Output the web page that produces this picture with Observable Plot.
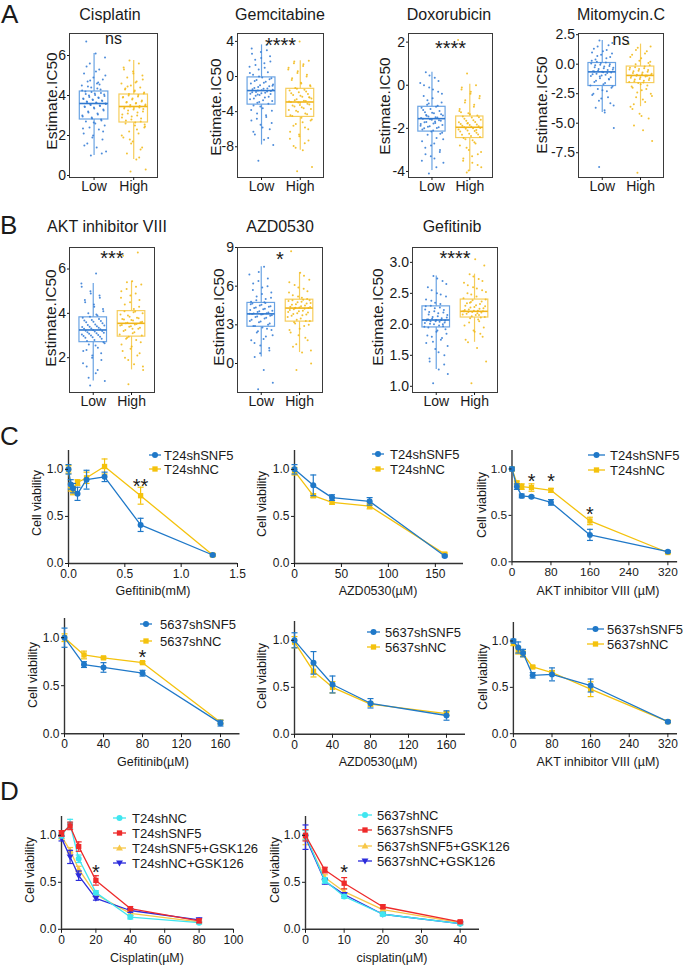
<!DOCTYPE html>
<html><head><meta charset="utf-8">
<script src="https://cdn.jsdelivr.net/npm/d3@7"></script>
<script src="https://cdn.jsdelivr.net/npm/@observablehq/plot@0.6"></script>
<style>
html,body{margin:0;padding:0;background:#fff;}
#page{position:relative;width:685px;height:965px;overflow:hidden;font-family:"Liberation Sans",Arial,Helvetica,sans-serif;}
#page > .panel{position:absolute;}
#overlay{position:absolute;left:0;top:0;pointer-events:none;overflow:visible;}
</style></head><body><div id="page"></div>
<script>
// ---------------- DATA: panel A / B (IC50 estimates, Low vs High) ----------------
// box stats: [lower whisker, Q1, median, Q3, upper whisker]
const cisplatinLowBox  = [1.0, 2.8, 3.6, 4.2, 6.1];
const cisplatinHighBox = [0.8, 2.65, 3.45, 4.05, 5.75];
const cisplatinLow  = [1.0,1.2,1.4,1.6,1.8,2.0,2.1,2.3,2.4,2.5,2.6,2.7,2.8,2.9,3.0,3.1,3.2,3.3,3.4,3.45,3.5,3.55,3.6,3.65,3.7,3.75,3.8,3.85,3.9,4.0,4.05,4.1,4.2,4.3,4.4,4.5,4.6,4.7,4.8,4.9,5.1,5.3,5.6,5.9,6.1,6.7,
  2.75,2.85,2.95,3.05,3.15,3.25,3.35,3.42,3.48,3.52,3.58,3.62,3.68,3.72,3.78,3.82,3.88,3.92,3.98,4.02,4.08,4.12,4.18,4.25,4.35,4.45,2.2,2.65,1.5,4.55,4.75,5.0,5.2,5.45,1.1,1.9,2.35,4.65];
const cisplatinHigh = [0.2,0.3,0.8,1.1,1.4,1.7,1.9,2.1,2.2,2.4,2.5,2.6,2.7,2.8,2.9,3.0,3.1,3.2,3.3,3.35,3.4,3.45,3.5,3.6,3.65,3.7,3.8,3.9,3.95,4.0,4.1,4.2,4.3,4.4,4.5,4.6,4.7,4.9,5.0,5.2,5.4,5.6,5.75,
  2.55,2.65,2.75,2.85,2.95,3.05,3.15,3.25,3.32,3.38,3.42,3.48,3.52,3.55,3.62,3.68,3.75,3.85,3.92,4.02,4.08,4.15,4.25,4.35,1.3,1.6,2.0,2.3,4.45,4.8,5.1,5.3,0.9,1.8,2.45,4.65];

const gemcitabineLowBox  = [-7.8, -3.2, -1.6, -0.1, 3.6];
const gemcitabineHighBox = [-8.4, -4.6, -2.9, -1.4, 1.8];
const gemcitabineLow  = [-9.6,-7.8,-7.2,-6.6,-6.0,-5.5,-5.0,-4.6,-4.2,-3.9,-3.6,-3.3,-3.1,-2.9,-2.6,-2.4,-2.2,-2.0,-1.9,-1.8,-1.7,-1.6,-1.5,-1.4,-1.3,-1.1,-1.0,-0.8,-0.6,-0.4,-0.2,-0.1,0.2,0.5,0.8,1.1,1.5,1.9,2.3,2.8,3.2,3.6,
  -3.0,-2.8,-2.7,-2.5,-2.3,-2.1,-1.95,-1.85,-1.75,-1.65,-1.55,-1.45,-1.35,-1.2,-0.9,-0.7,-0.5,-0.3,-3.4,-3.8,-4.4,-4.8,-5.3,-5.8,-6.3,-7.0,0.0,0.4,1.0,1.3,1.7,2.1,2.6,3.0,-2.05,-1.05];
const gemcitabineHigh = [-10.8,-10.3,-8.4,-7.9,-7.3,-6.8,-6.3,-5.8,-5.4,-5.0,-4.7,-4.5,-4.3,-4.0,-3.8,-3.6,-3.4,-3.2,-3.0,-2.9,-2.8,-2.6,-2.5,-2.3,-2.1,-2.0,-1.8,-1.6,-1.5,-1.3,-1.0,-0.7,-0.4,0.0,0.4,0.8,1.2,1.5,1.8,4.0,
  -4.4,-4.2,-3.9,-3.7,-3.5,-3.3,-3.1,-2.95,-2.85,-2.75,-2.7,-2.4,-2.2,-1.9,-1.7,-1.4,-4.9,-5.2,-5.6,-6.0,-6.6,-7.1,-7.6,-8.1,-1.1,-0.8,-0.2,0.2,0.6,1.0,1.4,1.7,-2.35,-3.25];

const doxorubicinLowBox  = [-3.95, -2.15, -1.55, -1.0, 0.6];
const doxorubicinHighBox = [-4.0, -2.45, -1.95, -1.45, 0.05];
const doxorubicinLow  = [-4.1,-3.6,-3.4,-3.2,-3.0,-2.8,-2.6,-2.45,-2.3,-2.2,-2.1,-2.0,-1.95,-1.9,-1.8,-1.75,-1.7,-1.65,-1.6,-1.55,-1.5,-1.45,-1.4,-1.3,-1.25,-1.2,-1.1,-1.05,-1.0,-0.9,-0.8,-0.6,-0.5,-0.3,-0.1,0.1,0.35,0.6,
  -2.25,-2.15,-2.05,-1.98,-1.92,-1.85,-1.78,-1.72,-1.62,-1.58,-1.52,-1.48,-1.42,-1.35,-1.28,-1.15,-0.95,-0.85,-2.5,-2.7,-2.9,-3.1,-3.3,-3.5,-3.8,-0.7,-0.4,-0.2,0.0,0.2,0.45,-1.88,-1.68,-1.38];
const doxorubicinHigh = [-4.05,-3.8,-3.6,-3.4,-3.2,-3.0,-2.8,-2.65,-2.5,-2.4,-2.35,-2.3,-2.2,-2.1,-2.05,-2.0,-1.95,-1.9,-1.85,-1.8,-1.7,-1.65,-1.6,-1.5,-1.45,-1.4,-1.3,-1.2,-1.0,-0.8,-0.6,-0.4,-0.2,0.0,0.55,2.1,
  -2.55,-2.45,-2.28,-2.25,-2.15,-2.12,-2.02,-1.98,-1.92,-1.88,-1.82,-1.75,-1.72,-1.62,-1.55,-1.48,-1.35,-1.25,-2.7,-2.9,-3.1,-3.3,-3.5,-3.7,-3.95,-1.1,-0.9,-0.7,-0.5,-0.3,-0.1,-2.08,-1.78];

const mitomycinLowBox  = [-4.1, -1.85, -0.65, 0.1, 2.0];
const mitomycinHighBox = [-3.6, -1.6, -0.95, -0.2, 1.7];
const mitomycinLow  = [-8.7,-5.4,-4.1,-3.7,-3.3,-2.9,-2.6,-2.3,-2.1,-1.9,-1.7,-1.5,-1.3,-1.2,-1.0,-0.9,-0.8,-0.7,-0.65,-0.6,-0.5,-0.4,-0.3,-0.2,-0.1,0.0,0.1,0.3,0.5,0.7,0.9,1.1,1.3,1.6,2.0,
  -1.8,-1.6,-1.4,-1.1,-0.95,-0.85,-0.75,-0.55,-0.45,-0.35,-0.25,-0.15,-0.05,0.05,0.15,0.2,-2.0,-2.2,-2.5,-2.8,-3.1,-3.5,-3.9,0.4,0.6,0.8,1.0,1.2,1.5,1.8,-0.68,-0.62,-1.25,-1.05];
const mitomycinHigh = [-9.2,-6.5,-5.6,-5.2,-4.6,-4.2,-3.6,-3.2,-2.8,-2.5,-2.2,-2.0,-1.8,-1.6,-1.5,-1.4,-1.3,-1.2,-1.1,-1.0,-0.95,-0.9,-0.8,-0.7,-0.6,-0.5,-0.4,-0.3,-0.2,0.0,0.2,0.5,0.8,1.1,1.4,1.7,
  -1.55,-1.45,-1.35,-1.25,-1.15,-1.05,-0.98,-0.92,-0.85,-0.75,-0.65,-0.55,-0.45,-0.35,-0.25,-0.1,-1.7,-1.9,-2.1,-2.4,-2.7,-3.0,-3.4,0.1,0.3,0.6,0.9,1.2,1.5,-4.4,-3.8,-0.97];

const aktLowBox  = [0.95, 2.7, 3.25, 3.82, 5.35];
const aktHighBox = [1.45, 2.95, 3.55, 4.1, 5.45];
const aktLow  = [0.75,0.95,1.3,1.6,1.9,2.1,2.3,2.45,2.6,2.7,2.8,2.9,2.95,3.0,3.05,3.1,3.15,3.2,3.25,3.3,3.35,3.4,3.45,3.5,3.6,3.65,3.7,3.8,3.9,4.0,4.2,4.4,4.6,4.8,5.0,5.35,5.8,
  2.75,2.85,2.92,2.98,3.02,3.08,3.12,3.18,3.22,3.28,3.32,3.38,3.42,3.48,3.55,3.62,3.68,3.75,3.85,2.65,2.55,2.35,2.2,2.0,1.75,1.45,1.1,4.1,4.3,4.5,4.7,4.9,5.2,3.95];
const aktHigh = [0.8,1.45,1.7,2.0,2.2,2.4,2.6,2.8,2.9,3.0,3.1,3.2,3.3,3.4,3.45,3.5,3.55,3.6,3.7,3.75,3.8,3.9,4.0,4.05,4.1,4.3,4.5,4.7,4.9,5.1,5.3,5.45,6.6,6.75,
  2.95,3.05,3.15,3.25,3.35,3.42,3.48,3.52,3.58,3.62,3.68,3.72,3.78,3.85,3.95,4.08,2.85,2.7,2.5,2.3,2.1,1.9,1.6,4.2,4.4,4.6,4.8,5.0,5.2,5.4,3.56,3.3];

const azdLowBox  = [0.5, 2.85, 3.85, 4.7, 7.5];
const azdHighBox = [0.85, 3.25, 4.3, 4.95, 7.05];
const azdLow  = [-2.0,-1.5,-0.5,0.5,1.0,1.4,1.8,2.1,2.4,2.6,2.8,2.9,3.0,3.2,3.3,3.5,3.6,3.7,3.8,3.85,3.9,4.0,4.1,4.2,4.3,4.4,4.5,4.6,4.7,4.9,5.1,5.4,5.7,6.0,6.4,6.9,7.5,
  2.9,3.1,3.25,3.4,3.55,3.65,3.75,3.82,3.88,3.95,4.05,4.15,4.25,4.35,4.45,4.55,4.65,2.7,2.5,2.2,1.9,1.6,1.2,0.8,4.8,5.0,5.2,5.5,5.9,6.2,6.6,7.1,3.86,4.75];
const azdHigh = [-0.5,0.0,0.85,1.3,1.8,2.2,2.6,2.9,3.1,3.3,3.5,3.7,3.8,3.9,4.0,4.1,4.2,4.3,4.35,4.4,4.5,4.6,4.7,4.8,4.9,5.0,5.2,5.5,5.8,6.1,6.5,7.05,8.7,
  3.3,3.4,3.6,3.75,3.85,3.95,4.05,4.15,4.25,4.32,4.38,4.45,4.55,4.65,4.75,4.85,4.95,3.2,3.0,2.7,2.4,2.0,1.5,1.0,5.1,5.3,5.6,5.9,6.3,6.8,4.28,4.9];

const gefitinibLowBox  = [1.27, 1.95, 2.07, 2.29, 2.78];
const gefitinibHighBox = [1.71, 2.11, 2.21, 2.4, 2.81];
const gefitinibLow  = [1.05,1.2,1.27,1.4,1.5,1.6,1.7,1.75,1.8,1.85,1.9,1.95,1.97,2.0,2.02,2.04,2.05,2.06,2.07,2.08,2.1,2.12,2.15,2.18,2.2,2.23,2.26,2.29,2.33,2.38,2.45,2.5,2.6,2.7,2.78,
  1.96,1.98,2.01,2.03,2.05,2.06,2.07,2.09,2.11,2.13,2.16,2.19,2.21,2.24,2.27,2.3,1.92,1.88,1.82,1.78,1.72,1.65,1.55,1.45,1.35,2.35,2.4,2.48,2.55,2.65,2.74,2.08,2.0];
const gefitinibHigh = [1.05,1.4,1.62,1.71,1.8,1.9,1.98,2.05,2.1,2.12,2.15,2.17,2.19,2.2,2.21,2.22,2.24,2.26,2.28,2.3,2.33,2.36,2.4,2.45,2.5,2.55,2.6,2.67,2.73,2.81,2.95,3.05,3.1,
  2.11,2.13,2.16,2.18,2.2,2.21,2.22,2.23,2.25,2.27,2.29,2.31,2.34,2.37,2.39,2.42,2.08,2.03,1.95,1.88,1.75,1.85,2.48,2.52,2.58,2.63,2.7,2.77,2.21,2.15,2.35];

const groupLabels = ["Low", "High"];

// ---------------- DATA: panel C (cell viability) ----------------
const gefMMDose = [0, 0.02, 0.04, 0.08, 0.16, 0.32, 0.64, 1.28];
const t24GefSNF5 = [1.00, 0.84, 0.80, 0.74, 0.89, 0.92, 0.41, 0.09];
const t24GefSNF5Err = [0.05, 0.05, 0.05, 0.07, 0.10, 0.05, 0.07, 0.01];
const t24GefNC = [1.00, 0.81, 0.77, 0.86, 0.91, 1.03, 0.72, 0.09];
const t24GefNCErr = [0.04, 0.04, 0.04, 0.03, 0.06, 0.08, 0.09, 0.01];

const azdDose = [0, 20, 40, 80, 160];
const t24AzdSNF5 = [1.00, 0.83, 0.70, 0.66, 0.08];
const t24AzdSNF5Err = [0.05, 0.11, 0.03, 0.04, 0.01];
const t24AzdNC = [0.98, 0.72, 0.65, 0.61, 0.10];
const t24AzdNCErr = [0.04, 0.02, 0.02, 0.03, 0.01];

const aktDose = [0, 10, 20, 40, 80, 160, 320];
const t24AktSNF5 = [1.00, 0.81, 0.71, 0.70, 0.64, 0.29, 0.11];
const t24AktSNF5Err = [0.02, 0.03, 0.02, 0.01, 0.03, 0.06, 0.01];
const t24AktNC = [1.00, 0.85, 0.81, 0.80, 0.77, 0.44, 0.10];
const t24AktNCErr = [0.02, 0.02, 0.03, 0.04, 0.02, 0.04, 0.01];

const gefUMDose = [0, 20, 40, 80, 160];
const c5637GefSNF5 = [1.00, 0.72, 0.69, 0.63, 0.11];
const c5637GefSNF5Err = [0.10, 0.03, 0.05, 0.03, 0.03];
const c5637GefNC = [1.00, 0.82, 0.79, 0.74, 0.12];
const c5637GefNCErr = [0.04, 0.04, 0.01, 0.01, 0.02];

const c5637AzdSNF5 = [1.00, 0.76, 0.53, 0.33, 0.20];
const c5637AzdSNF5Err = [0.08, 0.12, 0.09, 0.05, 0.05];
const c5637AzdNC = [0.98, 0.67, 0.50, 0.32, 0.22];
const c5637AzdNCErr = [0.06, 0.06, 0.06, 0.02, 0.02];

const c5637AktSNF5 = [1.00, 0.93, 0.87, 0.63, 0.64, 0.52, 0.13];
const c5637AktSNF5Err = [0.02, 0.06, 0.04, 0.03, 0.07, 0.07, 0.01];
const c5637AktNC = [0.98, 0.90, 0.86, 0.72, 0.66, 0.48, 0.13];
const c5637AktNCErr = [0.03, 0.04, 0.03, 0.01, 0.02, 0.08, 0.01];

// ---------------- DATA: panel D (cisplatin + GSK126) ----------------
const t24CisDose = [0, 5, 10, 20, 40, 80];
const t24CisNC = [1.00, 1.12, 0.75, 0.39, 0.13, 0.07];
const t24CisNCErr = [0.03, 0.05, 0.04, 0.02, 0.02, 0.01];
const t24CisSNF5 = [1.02, 1.10, 0.88, 0.52, 0.22, 0.09];
const t24CisSNF5Err = [0.03, 0.04, 0.05, 0.05, 0.02, 0.02];
const t24CisSNF5GSK = [0.99, 0.84, 0.64, 0.37, 0.17, 0.08];
const t24CisSNF5GSKErr = [0.03, 0.03, 0.03, 0.02, 0.02, 0.01];
const t24CisNCGSK = [0.97, 0.77, 0.57, 0.33, 0.20, 0.10];
const t24CisNCGSKErr = [0.03, 0.07, 0.05, 0.02, 0.02, 0.02];

const c5637CisDose = [0, 5, 10, 20, 40];
const c5637CisNC = [1.00, 0.52, 0.35, 0.16, 0.06];
const c5637CisNCErr = [0.05, 0.03, 0.02, 0.02, 0.01];
const c5637CisSNF5 = [1.00, 0.63, 0.49, 0.24, 0.08];
const c5637CisSNF5Err = [0.06, 0.03, 0.06, 0.02, 0.01];
const c5637CisSNF5GSK = [0.98, 0.55, 0.40, 0.21, 0.07];
const c5637CisSNF5GSKErr = [0.08, 0.03, 0.03, 0.02, 0.01];
const c5637CisNCGSK = [0.98, 0.51, 0.37, 0.16, 0.06];
const c5637CisNCGSKErr = [0.13, 0.03, 0.02, 0.01, 0.01];

// ---------------- STYLE ----------------
const FONT = '"Liberation Sans", Arial, Helvetica, sans-serif';
const INK = "#1a1a1a";
const LOW_DOT = "#3a80d6", LOW_BOX = "#6aa3e3", LOW_MED = "#2f78cf";
const HIGH_DOT = "#f2bb1e", HIGH_BOX = "#f6cd5c", HIGH_MED = "#f0b51a";
const C_BLUE = "#1f78c8", C_YEL = "#f4c20d";
const D_CYAN = "#3fe6f0", D_RED = "#ee2a2a", D_YEL = "#f7c748", D_BLUE = "#2b2bdb";

const CAP = {draw(ctx, size) { const w = Math.sqrt(size / Math.PI); ctx.moveTo(-w, 0); ctx.lineTo(w, 0); }};
const TRI_UP = {draw(ctx, size) { const r = Math.sqrt(size / Math.PI) * 1.15; ctx.moveTo(0, -r); ctx.lineTo(r, r * 0.7); ctx.lineTo(-r, r * 0.7); ctx.closePath(); }};
const TRI_DOWN = {draw(ctx, size) { const r = Math.sqrt(size / Math.PI) * 1.15; ctx.moveTo(0, r); ctx.lineTo(r, -r * 0.7); ctx.lineTo(-r, -r * 0.7); ctx.closePath(); }};

const page = document.getElementById("page");
function mount(svg, x0, y0, m) {
  const div = document.createElement("div");
  div.className = "panel";
  div.style.left = (x0 - m.left) + "px";
  div.style.top = (y0 - m.top) + "px";
  div.appendChild(svg);
  page.appendChild(div);
}
const baseStyle = {fontFamily: FONT, background: "transparent", overflow: "visible", color: INK};

// ---------------- BOX PANELS ----------------
const BOX_M = {left: 40, right: 4, top: 4, bottom: 24};
const BW = 0.36;
function jitter(i) { return (((i * 0.6180339887) + 0.37) % 1 - 0.5) * 0.62; }
function boxPanel(p) {
  const [x0, x1, y0, y1] = p.frame;
  const groups = [
    {pos: 1, vals: p.low, s: p.lowBox, dot: LOW_DOT, line: LOW_BOX, med: LOW_MED},
    {pos: 2, vals: p.high, s: p.highBox, dot: HIGH_DOT, line: HIGH_BOX, med: HIGH_MED}
  ];
  const marks = [];
  for (const g of groups) {
    const st = [{pos: g.pos, lo: g.s[0], q1: g.s[1], med: g.s[2], q3: g.s[3], hi: g.s[4]}];
    marks.push(Plot.ruleX(st, {x: "pos", y1: "q3", y2: "hi", stroke: g.line, strokeWidth: 1.2}));
    marks.push(Plot.ruleX(st, {x: "pos", y1: "lo", y2: "q1", stroke: g.line, strokeWidth: 1.2}));
    marks.push(Plot.rect(st, {x1: d => d.pos - BW, x2: d => d.pos + BW, y1: "q1", y2: "q3", fill: "white", fillOpacity: 0.35, stroke: g.line, strokeWidth: 1.2}));
    marks.push(Plot.dot(g.vals.map((v, i) => ({x: g.pos + jitter(i), y: v})), {x: "x", y: "y", r: 1.0, fill: g.dot, fillOpacity: 0.9}));
    marks.push(Plot.ruleY(st, {y: "med", x1: d => d.pos - BW, x2: d => d.pos + BW, stroke: g.med, strokeWidth: 1.6}));
  }
  marks.push(Plot.frame({stroke: "#3a3a3a", strokeWidth: 1}));
  marks.push(Plot.axisY({ticks: p.ticks, tickFormat: p.fmt, tickSize: 2, tickPadding: 1.5, fontSize: 14, label: null}));
  marks.push(Plot.axisX({ticks: [1, 2], tickFormat: d => groupLabels[d - 1], tickSize: 3, tickPadding: 1, fontSize: 14, label: null}));
  marks.push(Plot.text([p.sig], {text: d => d, frameAnchor: "top", lineAnchor: "top", dy: p.sigDy, fontSize: p.sig === "ns" ? 16 : 20, fill: INK}));
  const svg = Plot.plot({
    width: x1 - x0 + BOX_M.left + BOX_M.right, height: y1 - y0 + BOX_M.top + BOX_M.bottom,
    marginLeft: BOX_M.left, marginRight: BOX_M.right, marginTop: BOX_M.top, marginBottom: BOX_M.bottom,
    x: {domain: [0.38, 2.6]}, y: {domain: p.domain}, style: baseStyle, marks
  });
  mount(svg, x0, y0, BOX_M);
}
const intFmt = d => String(d);
const oneFmt = d => d.toFixed(1);
[
  {frame: [69, 157, 33, 177], domain: [-0.1, 7.1], ticks: [0, 2, 4, 6], fmt: intFmt, low: cisplatinLow, high: cisplatinHigh, lowBox: cisplatinLowBox, highBox: cisplatinHighBox, sig: "ns", sigDy: -0.5},
  {frame: [237, 323, 33, 177], domain: [-11.5, 4.9], ticks: [-8, -4, 0, 4], fmt: intFmt, low: gemcitabineLow, high: gemcitabineHigh, lowBox: gemcitabineLowBox, highBox: gemcitabineHighBox, sig: "****", sigDy: 4.5},
  {frame: [408, 492, 33, 177], domain: [-4.28, 2.4], ticks: [-4, -2, 0, 2], fmt: intFmt, low: doxorubicinLow, high: doxorubicinHigh, lowBox: doxorubicinLowBox, highBox: doxorubicinHighBox, sig: "****", sigDy: 7.5},
  {frame: [578, 663, 33, 177], domain: [-9.6, 2.6], ticks: [-7.5, -5, -2.5, 0, 2.5], fmt: oneFmt, low: mitomycinLow, high: mitomycinHigh, lowBox: mitomycinLowBox, highBox: mitomycinHighBox, sig: "ns", sigDy: 0.5},
  {frame: [69, 154, 247, 392], domain: [0.43, 6.97], ticks: [2, 4, 6], fmt: intFmt, low: aktLow, high: aktHigh, lowBox: aktLowBox, highBox: aktHighBox, sig: "***", sigDy: 3},
  {frame: [237, 322, 247, 392], domain: [-2.25, 9.0], ticks: [0, 3, 6, 9], fmt: intFmt, low: azdLow, high: azdHigh, lowBox: azdLowBox, highBox: azdHighBox, sig: "*", sigDy: 4},
  {frame: [412, 497, 247, 392], domain: [0.90, 3.24], ticks: [1, 1.5, 2, 2.5, 3], fmt: oneFmt, low: gefitinibLow, high: gefitinibHigh, lowBox: gefitinibLowBox, highBox: gefitinibHighBox, sig: "****", sigDy: 3}
].forEach(boxPanel);

// ---------------- LINE PANELS ----------------
const LC_M = {left: 36, right: 8, top: 6, bottom: 22};
function lineChart(p) {
  const [x0, x1, y0, y1] = p.frame;
  const marks = [
    Plot.ruleX([p.xDomain[0]], {stroke: "#333", strokeWidth: 1.4}),
    Plot.ruleY([0], {stroke: "#333", strokeWidth: 1.4})
  ];
  for (const s of p.series) {
    const data = s.y.map((v, i) => ({x: p.x[i], y: v, lo: v - s.e[i], hi: v + s.e[i]}));
    marks.push(Plot.line(data, {x: "x", y: "y", stroke: s.color, strokeWidth: 1.3}));
    marks.push(Plot.ruleX(data, {x: "x", y1: "lo", y2: "hi", stroke: s.color, strokeWidth: 1.2}));
    marks.push(Plot.dot(data, {x: "x", y: "lo", symbol: CAP, r: 3, stroke: s.color, fill: "none", strokeWidth: 1.2}));
    marks.push(Plot.dot(data, {x: "x", y: "hi", symbol: CAP, r: 3, stroke: s.color, fill: "none", strokeWidth: 1.2}));
    marks.push(Plot.dot(data, {x: "x", y: "y", symbol: s.symbol, r: s.r || 3, fill: s.color, stroke: "none"}));
  }
  marks.push(Plot.axisY({ticks: [0, 0.5, 1], tickFormat: oneFmt, tickSize: 3, tickPadding: 2, fontSize: 12, label: null}));
  marks.push(Plot.axisX({ticks: p.xTicks, tickFormat: p.xFmt, tickSize: 4, tickPadding: 2, fontSize: 12, label: null}));
  if (p.stars) marks.push(Plot.text(p.stars, {x: "x", y: "y", text: "label", lineAnchor: "top", dy: -2.6, fontSize: 20, fill: INK}));
  const svg = Plot.plot({
    width: x1 - x0 + LC_M.left + LC_M.right, height: y1 - y0 + LC_M.top + LC_M.bottom,
    marginLeft: LC_M.left, marginRight: LC_M.right, marginTop: LC_M.top, marginBottom: LC_M.bottom,
    x: {domain: p.xDomain}, y: {domain: [0, 1.2]}, style: baseStyle, marks
  });
  mount(svg, x0, y0, LC_M);
}
const snfC = (y, e) => ({y, e, color: C_BLUE, symbol: "circle", r: 3});
const ncC = (y, e) => ({y, e, color: C_YEL, symbol: "square", r: 3});
lineChart({frame: [68, 237, 450, 563], x: gefMMDose, xDomain: [0, 1.5], xTicks: [0, 0.5, 1, 1.5], xFmt: oneFmt,
  series: [ncC(t24GefNC, t24GefNCErr), snfC(t24GefSNF5, t24GefSNF5Err)], stars: [{x: 0.64, y: 0.87, label: "**"}]});
lineChart({frame: [294, 463, 450, 563], x: azdDose, xDomain: [0, 180], xTicks: [0, 50, 100, 150], xFmt: intFmt,
  series: [ncC(t24AzdNC, t24AzdNCErr), snfC(t24AzdSNF5, t24AzdSNF5Err)]});
lineChart({frame: [512, 680, 450, 563], x: aktDose, xDomain: [0, 340], xTicks: [0, 80, 160, 240, 320], xFmt: intFmt,
  series: [ncC(t24AktNC, t24AktNCErr), snfC(t24AktSNF5, t24AktSNF5Err)],
  stars: [{x: 40, y: 0.915, label: "*"}, {x: 80, y: 0.915, label: "*"}, {x: 160, y: 0.56, label: "*"}]});
lineChart({frame: [64, 239.5, 617.8, 733], x: gefUMDose, xDomain: [0, 180], xTicks: [0, 40, 80, 120, 160], xFmt: intFmt,
  series: [ncC(c5637GefNC, c5637GefNCErr), snfC(c5637GefSNF5, c5637GefSNF5Err)], stars: [{x: 80, y: 0.85, label: "*"}]});
lineChart({frame: [294, 465, 621.2, 734], x: azdDose, xDomain: [0, 180], xTicks: [0, 40, 80, 120, 160], xFmt: intFmt,
  series: [ncC(c5637AzdNC, c5637AzdNCErr), snfC(c5637AzdSNF5, c5637AzdSNF5Err)]});
lineChart({frame: [513, 677.7, 622.4, 734], x: aktDose, xDomain: [0, 340], xTicks: [0, 80, 160, 240, 320], xFmt: intFmt,
  series: [ncC(c5637AktNC, c5637AktNCErr), snfC(c5637AktSNF5, c5637AktSNF5Err)]});

lineChart({frame: [61, 233, 816.2, 929], x: t24CisDose, xDomain: [0, 100], xTicks: [0, 20, 40, 60, 80, 100], xFmt: intFmt,
  series: [
    {y: t24CisSNF5GSK, e: t24CisSNF5GSKErr, color: D_YEL, symbol: TRI_UP, r: 3},
    {y: t24CisNCGSK, e: t24CisNCGSKErr, color: D_BLUE, symbol: TRI_DOWN, r: 3},
    {y: t24CisNC, e: t24CisNCErr, color: D_CYAN, symbol: "circle", r: 3},
    {y: t24CisSNF5, e: t24CisSNF5Err, color: D_RED, symbol: "square", r: 3}
  ], stars: [{x: 20, y: 0.66, label: "*"}]});
lineChart({frame: [305, 479, 816.2, 929], x: c5637CisDose, xDomain: [0, 45], xTicks: [0, 10, 20, 30, 40], xFmt: intFmt,
  series: [
    {y: c5637CisSNF5GSK, e: c5637CisSNF5GSKErr, color: D_YEL, symbol: TRI_UP, r: 3},
    {y: c5637CisNCGSK, e: c5637CisNCGSKErr, color: D_BLUE, symbol: TRI_DOWN, r: 3},
    {y: c5637CisNC, e: c5637CisNCErr, color: D_CYAN, symbol: "circle", r: 3},
    {y: c5637CisSNF5, e: c5637CisSNF5Err, color: D_RED, symbol: "square", r: 3}
  ], stars: [{x: 10, y: 0.66, label: "*"}]});

// ---------------- TEXT OVERLAY (letters, titles, axis labels, legends) ----------------
const ov = d3.select(page).append("svg").attr("id", "overlay").attr("width", 685).attr("height", 965)
  .attr("font-family", FONT).attr("fill", INK);
function txt(x, y, s, size, anchor = "start", rot = false) {
  const t = ov.append("text").attr("x", x).attr("y", y).attr("font-size", size).attr("text-anchor", anchor).text(s);
  if (rot) t.attr("transform", `rotate(-90 ${x} ${y})`);
}
[["A", 1, 23], ["B", 0, 234], ["C", 0, 445], ["D", 0, 800]].forEach(([s, x, y]) => txt(x, y, s, 26));
[["Cisplatin", 110, 19.5], ["Gemcitabine", 280, 19.5], ["Doxorubicin", 449, 19.5], ["Mitomycin.C", 621, 19.5],
 ["AKT inhibitor VIII", 107, 232], ["AZD0530", 280, 232], ["Gefitinib", 452, 232]].forEach(([s, x, y]) => txt(x, y, s, 16, "middle"));
[[57, 101], [221, 107], [390, 106], [547, 105], [56, 318], [224, 317], [383, 317]].forEach(([x, y]) => txt(x, y, "Estimate.IC50", 15.5, "middle", true));
[[41, 503], [266, 504], [486, 505], [37, 675], [266, 676], [487, 677], [34, 870], [279, 870]].forEach(([x, y]) => txt(x, y, "Cell viability", 12.5, "middle", true));
[["Gefitinib(mM)", 153, 595], ["AZD0530(µM)", 378, 595], ["AKT inhibitor VIII (µM)", 598, 595],
 ["Gefitinib(µM)", 153, 766], ["AZD0530(µM)", 378, 766], ["AKT inhibitor VIII (µM)", 598, 766],
 ["Cisplatin(µM)", 147, 962], ["cisplatin(µM)", 392, 962]].forEach(([s, x, y]) => txt(x, y, s, 12.5, "middle"));

function legend(xa, xb, tx, ys, items) {
  items.forEach((it, i) => {
    const y = ys[i];
    ov.append("line").attr("x1", xa).attr("x2", xb).attr("y1", y).attr("y2", y).attr("stroke", it.color).attr("stroke-width", 1.3);
    ov.append("path").attr("d", d3.symbol(it.symbol, 9 * Math.PI)()).attr("transform", `translate(${(xa + xb) / 2},${y})`).attr("fill", it.color);
    txt(tx, y + 4.6, it.label, 13);
  });
}
const symMap = {circle: d3.symbolCircle, square: d3.symbolSquare};
const cT24 = [{label: "T24shSNF5", color: C_BLUE, symbol: symMap.circle}, {label: "T24shNC", color: C_YEL, symbol: symMap.square}];
const c5637 = [{label: "5637shSNF5", color: C_BLUE, symbol: symMap.circle}, {label: "5637shNC", color: C_YEL, symbol: symMap.square}];
legend(149, 161, 164, [455, 469], cT24);
legend(372, 384, 390, [454, 469], cT24);
legend(588, 605, 610, [455, 470], cT24);
legend(140, 152, 160, [624, 641], c5637);
legend(367, 380, 385, [632, 647], c5637);
legend(587, 604, 607, [629, 644], c5637);
legend(113, 126, 132, [818, 833, 848, 863], [
  {label: "T24shNC", color: D_CYAN, symbol: symMap.circle},
  {label: "T24shSNF5", color: D_RED, symbol: symMap.square},
  {label: "T24shSNF5+GSK126", color: D_YEL, symbol: TRI_UP},
  {label: "T24shNC+GSK126", color: D_BLUE, symbol: TRI_DOWN}]);
legend(358, 372, 377, [815, 830, 846, 861], [
  {label: "5637shNC", color: D_CYAN, symbol: symMap.circle},
  {label: "5637shSNF5", color: D_RED, symbol: symMap.square},
  {label: "5637shSNF5+GSK126", color: D_YEL, symbol: TRI_UP},
  {label: "5637shNC+GSK126", color: D_BLUE, symbol: TRI_DOWN}]);
</script></body></html>
